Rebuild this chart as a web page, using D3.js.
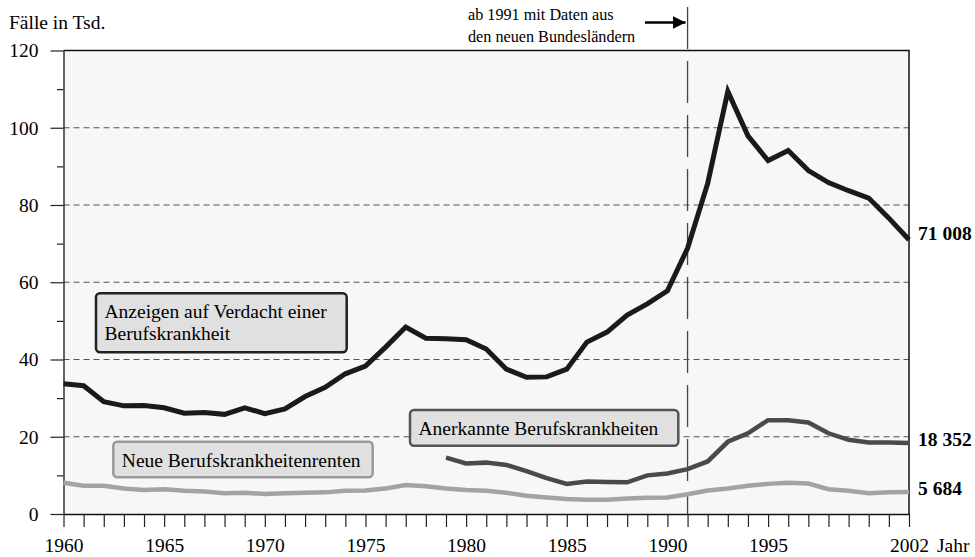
<!DOCTYPE html>
<html>
<head>
<meta charset="utf-8">
<script src="https://cdn.jsdelivr.net/npm/d3@7"></script>
<style>
  body { margin: 0; background: #fff; }
  svg { display: block; font-family: "Liberation Serif", "Times New Roman", serif; }
</style>
</head>
<body>
<script>
// Berufskrankheiten, Fälle in Tsd.
var years = [1960, 1961, 1962, 1963, 1964, 1965, 1966, 1967, 1968, 1969,
    1970, 1971, 1972, 1973, 1974, 1975, 1976, 1977, 1978, 1979,
    1980, 1981, 1982, 1983, 1984, 1985, 1986, 1987, 1988, 1989,
    1990, 1991, 1992, 1993, 1994, 1995, 1996, 1997, 1998, 1999,
    2000, 2001, 2002];
var anzeigen = [33.7, 33.2, 29.1, 28.0, 28.1, 27.5, 26.1, 26.3, 25.8, 27.5,
    26.0, 27.2, 30.4, 32.8, 36.3, 38.3, 43.2, 48.4, 45.5, 45.4,
    45.1, 42.7, 37.5, 35.4, 35.5, 37.5, 44.5, 47.1, 51.5, 54.4,
    57.8, 68.8, 85.6, 109.4, 97.9, 91.5, 94.1, 88.9, 85.8, 83.7,
    81.8, 76.6, 71.008];
var renten = [8.1, 7.3, 7.3, 6.6, 6.2, 6.4, 6.0, 5.8, 5.4, 5.5,
    5.2, 5.4, 5.5, 5.6, 6.0, 6.1, 6.6, 7.5, 7.2, 6.6,
    6.2, 6.0, 5.5, 4.7, 4.3, 3.9, 3.7, 3.7, 4.0, 4.2,
    4.3, 5.1, 6.1, 6.6, 7.3, 7.8, 8.1, 7.9, 6.4, 6.0,
    5.4, 5.6, 5.684];
// anerkannte BK erst ab 1979
var anerkanntYears = years.slice(19);
var anerkannt = [14.6, 13.1, 13.3, 12.7, 11.1, 9.3, 7.8, 8.4, 8.3, 8.2,
    10.0, 10.5, 11.6, 13.6, 18.7, 20.9, 24.3, 24.3, 23.7, 20.9,
    19.2, 18.5, 18.5, 18.352];
var endLabels = ['71 008', '18 352', '5 684'];
var xLabelYears = [1960, 1965, 1970, 1975, 1980, 1985, 1990, 1995, 2002];
var yTicks = [0, 10, 20, 30, 40, 50, 60, 70, 80, 90, 100, 110, 120];
var yGrid = [20, 40, 60, 80, 100];
var markYear = 1991;

var W = 975, H = 557;
var pLeft = 63.5, pRight = 909, pTop = 50.5, pBottom = 514;

var x = d3.scaleLinear().domain([1960, 2002]).range([pLeft, pRight]);
var y = d3.scaleLinear().domain([0, 120]).range([pBottom, pTop]);

var svg = d3.select('body').append('svg')
    .attr('width', W)
    .attr('height', H);

// plot background
svg.append('rect')
    .attr('x', pLeft)
    .attr('y', pTop)
    .attr('width', pRight - pLeft)
    .attr('height', pBottom - pTop)
    .attr('fill', '#f7f7f7');

// dashed grid
svg.selectAll('line.grid')
    .data(yGrid)
    .enter().append('line')
    .attr('class', 'grid')
    .attr('x1', pLeft)
    .attr('x2', pRight)
    .attr('y1', function(d) { return y(d); })
    .attr('y2', function(d) { return y(d); })
    .attr('stroke', '#555')
    .attr('stroke-width', 1.2)
    .attr('stroke-dasharray', '6,4');

// top + right frame
svg.append('path')
    .attr('d', 'M' + pLeft + ',' + pTop + 'H' + pRight + 'V' + pBottom)
    .attr('fill', 'none')
    .attr('stroke', '#111')
    .attr('stroke-width', 1.5);

// 1991 marker
svg.append('line')
    .attr('x1', x(markYear))
    .attr('x2', x(markYear))
    .attr('y1', 7)
    .attr('y2', pBottom)
    .attr('stroke', '#444')
    .attr('stroke-width', 1.3)
    .attr('stroke-dasharray', '42,12');

// y axis
var yAxis = d3.axisLeft(y)
    .tickValues(yTicks)
    .tickSize(13)
    .tickSizeOuter(0)
    .tickFormat(function(d) { return d % 20 === 0 ? d : ''; });
var gy = svg.append('g')
    .attr('transform', 'translate(' + pLeft + ',0)')
    .call(yAxis);
gy.select('.domain').attr('stroke', '#333').attr('stroke-width', 1.5);
gy.selectAll('.tick line')
    .attr('stroke', '#222')
    .attr('stroke-width', 1.2)
    .attr('x2', function(d) { return d % 20 === 0 ? -13 : -6.5; });
gy.selectAll('.tick text')
    .attr('x', -25)
    .attr('font-size', 19.5)
    .attr('font-family', '"Liberation Serif", serif')
    .attr('fill', '#000');

// x axis
var xAxis = d3.axisBottom(x)
    .tickValues(years)
    .tickSize(13)
    .tickSizeOuter(0)
    .tickFormat(function(d) { return xLabelYears.indexOf(d) >= 0 ? d : ''; });
var gx = svg.append('g')
    .attr('transform', 'translate(0,' + pBottom + ')')
    .call(xAxis);
gx.select('.domain').attr('stroke', '#111').attr('stroke-width', 1.5);
gx.selectAll('.tick line').attr('stroke', '#222').attr('stroke-width', 1.2);
gx.selectAll('.tick text')
    .attr('y', 37.5)
    .attr('dy', 0)
    .attr('font-size', 19.5)
    .attr('font-family', '"Liberation Serif", serif')
    .attr('fill', '#000');

svg.append('text')
    .attr('x', 937)
    .attr('y', 551.5)
    .attr('font-size', 19.5)
    .text('Jahr');

svg.append('text')
    .attr('x', 9)
    .attr('y', 29.3)
    .attr('font-size', 19.5)
    .text('Fälle in Tsd.');

// annotation
var note = svg.append('text')
    .attr('font-size', 16.2);
note.append('tspan').attr('x', 468).attr('y', 20.3).text('ab 1991 mit Daten aus');
note.append('tspan').attr('x', 468).attr('y', 41.6).text('den neuen Bundesländern');

svg.append('defs').append('marker')
    .attr('id', 'arr')
    .attr('viewBox', '0 0 10 10')
    .attr('refX', 10)
    .attr('refY', 5)
    .attr('markerWidth', 5)
    .attr('markerHeight', 5)
    .attr('orient', 'auto')
    .append('path')
    .attr('d', 'M0,0L10,5L0,10z')
    .attr('fill', '#000');
svg.append('line')
    .attr('x1', 645)
    .attr('x2', x(markYear) - 2)
    .attr('y1', 22.5)
    .attr('y2', 22.5)
    .attr('stroke', '#000')
    .attr('stroke-width', 2.5)
    .attr('marker-end', 'url(#arr)');

// lines
var line = d3.line()
    .x(function(d) { return x(d[0]); })
    .y(function(d) { return y(d[1]); });

var series = [
    { vals: d3.zip(years, renten), color: '#a3a3a3', w: 4.5 },
    { vals: d3.zip(anerkanntYears, anerkannt), color: '#4a4a4a', w: 4.5 },
    { vals: d3.zip(years, anzeigen), color: '#1a1a1a', w: 5 }
];
svg.selectAll('path.series')
    .data(series)
    .enter().append('path')
    .attr('class', 'series')
    .attr('d', function(d) { return line(d.vals); })
    .attr('fill', 'none')
    .attr('stroke', function(d) { return d.color; })
    .attr('stroke-width', function(d) { return d.w; })
    .attr('stroke-linejoin', 'miter');

// end labels
var lastVals = [anzeigen[anzeigen.length - 1], anerkannt[anerkannt.length - 1], renten[renten.length - 1]];
svg.selectAll('text.endlab')
    .data(endLabels)
    .enter().append('text')
    .attr('class', 'endlab')
    .attr('x', 918)
    .attr('y', function(d, i) { return y(lastVals[i]) + [0.5, 2.6, 3][i]; })
    .attr('font-size', 19.5)
    .attr('font-weight', 'bold')
    .text(function(d) { return d; });

// legend boxes
var boxes = [
    { x: 96, y: 293.3, w: 250.7, h: 59, stroke: '#222', lines: ['Anzeigen auf Verdacht einer', 'Berufskrankheit'] },
    { x: 113.3, y: 441.7, w: 259.4, h: 35.6, stroke: '#9a9a9a', lines: ['Neue Berufskrankheitenrenten'] },
    { x: 410, y: 410, w: 268.3, h: 35.7, stroke: '#555', lines: ['Anerkannte Berufskrankheiten'] }
];
var bg = svg.selectAll('g.box')
    .data(boxes)
    .enter().append('g')
    .attr('class', 'box')
    .attr('transform', function(d) { return 'translate(' + d.x + ',' + d.y + ')'; });
bg.append('rect')
    .attr('width', function(d) { return d.w; })
    .attr('height', function(d) { return d.h; })
    .attr('rx', 4)
    .attr('fill', '#e0e0e0')
    .attr('stroke', function(d) { return d.stroke; })
    .attr('stroke-width', 2.5);
bg.append('text')
    .attr('font-size', 19.5)
    .selectAll('tspan')
    .data(function(d) { return d.lines; })
    .enter().append('tspan')
    .attr('x', 8.5)
    .attr('y', function(d, i) { return 25 + i * 21.7; })
    .text(function(d) { return d; });
</script>
</body>
</html>
